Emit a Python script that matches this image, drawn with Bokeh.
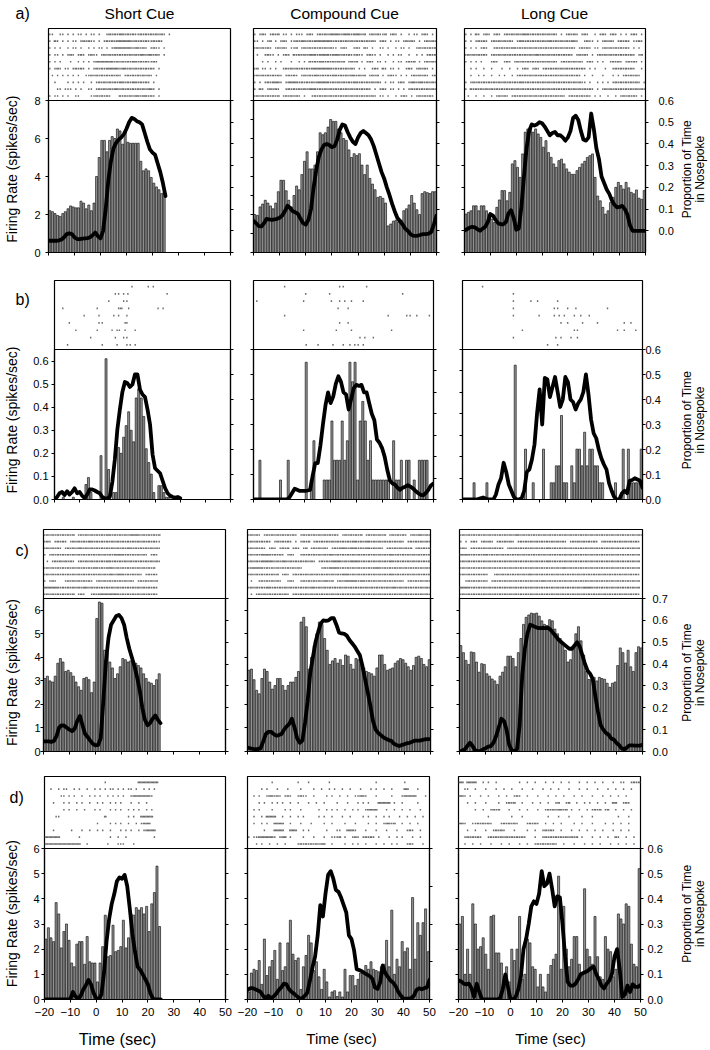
import numpy as np
from bokeh.plotting import figure
from bokeh.models import Range1d, LinearAxis, FixedTicker, Span, NumeralTickFormatter
from bokeh.core.properties import value
from bokeh.layouts import column, row
from bokeh.embed import file_html
from bokeh.resources import INLINE

FONT = "Liberation Sans"

# ---------------- data ----------------
time_ticks = [-20, -10, 0, 10, 20, 30, 40, 50]
col_titles = ["Short Cue", "Compound Cue", "Long Cue"]
row_tags = ["a)", "b)", "c)", "d)"]
rate_label = "Firing Rate (spikes/sec)"
prop_label = ["Proportion of Time", "in Nosepoke"]
time_label = "Time (sec)"

# firing rate per 1-s bin starting at -20 s; proportion of time per second starting at -20 s
a1_rate = [2.2, 2.15, 2.05, 1.95, 1.9, 2.05, 2.15, 2.3, 2.45, 2.4, 2.35, 2.35, 2.7, 2.6, 2.3, 2.5, 2.2, 2.6, 4.0, 5.0,
           5.9, 5.9, 5.3, 5.9, 6.1, 6.0, 6.5, 6.4, 5.7, 6.35, 5.8, 5.75, 5.75, 5.75, 5.75, 4.8, 4.3, 4.4, 4.3, 3.95,
           3.65, 3.45, 3.3, 3.1, 3.2]
a1_prop = [.054, .054, .054, .054, .056, .06, .07, .085, .088, .085, .07, .062, .062, .064, .065, .066, .07, .08, .092, .075,
           .065, .10, .2, .33, .42, .48, .505, .52, .53, .545, .57, .6, .62, .615, .605, .6, .59, .55, .51, .475,
           .46, .45, .41, .37, .32, .26]
a2_rate = [2.0, 1.95, 2.4, 2.55, 2.75, 2.6, 2.45, 2.3, 2.6, 3.2,
           3.8, 3.8, 3.25, 2.75, 2.4, 3.0, 3.5, 3.3, 4.1, 4.8,
           5.3, 4.4, 4.4, 4.6, 5.3, 6.3, 6.2, 6.3, 6.6, 7.0,
           6.9, 6.9, 6.5, 6.3, 6.0, 5.9, 5.4, 5.0, 5.2, 5.1,
           5.2, 4.6, 4.1, 4.6, 3.9, 3.6, 3.3, 2.9, 2.95, 2.85,
           2.6, 1.4, 1.5, 1.65, 1.7, 1.6, 1.7, 2.2, 2.3, 2.5,
           3.0, 2.6, 2.25, 2.0, 3.1, 3.2, 3.15, 3.1, 3.2, 3.2]
a2_prop = [.146, .135, .122, .12, .135, .155, .152, .15, .152, .155,
           .16, .17, .19, .215, .205, .19, .185, .178, .155, .135,
           .128, .15, .2, .3, .38, .44, .475, .495, .5, .495,
           .485, .49, .52, .565, .59, .585, .555, .53, .51, .5,
           .53, .55, .56, .55, .54, .52, .49, .45, .41, .37,
           .34, .3, .265, .225, .19, .16, .145, .13, .11, .1,
           .085, .078, .077, .078, .082, .085, .085, .087, .095, .13, .17]
a3_rate = [1.77, 1.85, 1.92, 2.15, 2.15, 1.92, 2.15, 2.15, 1.92, 1.77,
           1.54, 1.38, 2.08, 2.42, 2.85, 2.85, 2.38, 2.77, 4.08, 4.23,
           3.92, 3.46, 4.54, 5.54, 5.69, 5.77, 5.54, 5.69, 5.46, 5.3,
           4.85, 5.15, 4.6, 4.38, 4.08, 3.92, 4.23, 4.3, 4.08, 3.85,
           3.7, 3.6, 3.6, 3.77, 3.92, 4.08, 4.2, 4.38, 4.46, 4.54,
           3.46, 2.6, 2.38, 2.08, 1.77, 1.92, 2.3, 2.54, 3.0, 3.23,
           3.08, 2.92, 3.23, 2.98, 2.77, 2.7, 2.88, 2.5, 2.45, 2.85]
a3_prop = [0, .008, .015, .018, .016, .008, 0, .01, .018, .04,
           .077, .07, .05, .035, .03, .03, .04, .08, .095, .06,
           .005, .01, .11, .25, .38, .46, .49, .485, .49, .5,
           .495, .48, .46, .44, .45, .455, .44, .44, .43, .415,
           .43, .46, .52, .53, .51, .46, .42, .415, .43, .54,
           .47, .38, .33, .25, .22, .19, .17, .14, .12, .108,
           .11, .115, .1, .075, .025, 0, 0, 0, 0, 0, 0]

b1_rate = [0, 0, 0, 0.01, 0, 0, 0, 0.01, 0, 0,
           0, 0, 0.065, 0.095, 0.03, 0, 0, 0, 0.19, 0,
           0.61, 0.13, 0, 0.03, 0.03, 0.225, 0.2, 0.27, 0.32, 0.38,
           0.3, 0.25, 0.44, 0.48, 0.44, 0.36, 0.22, 0.16, 0.11, 0.03,
           0, 0.06, 0.06, 0.03, 0.01, 0.01, 0, 0.01, 0.005, 0.01]
b1_prop = [0, .01, .025, .03, .018, .033, .02, .03, .045, .025,
           .03, .015, .005, .02, .04, .04, .036, .03, .025, .01,
           .004, .004, .01, .07, .16, .28, .36, .43, .47, .465,
           .45, .46, .5, .5, .44, .42, .41, .36, .3, .18,
           .125, .115, .105, .075, .045, .025, .015, .01, .008, .01, .005]
b2_rate = [0, 0, 0.157, 0, 0, 0, 0, 0, 0, 0,
           0.078, 0, 0, 0.157, 0, 0, 0, 0, 0, 0,
           0.549, 0, 0.078, 0.235, 0, 0, 0, 0.078, 0.078, 0.078,
           0.314, 0.157, 0.157, 0.157, 0.314, 0.157, 0.235, 0.549, 0.471, 0.549,
           0.078, 0.314, 0.392, 0.314, 0.157, 0.235, 0.078, 0.078, 0.078, 0.078,
           0.078, 0.078, 0.078, 0, 0.235, 0.078, 0.078, 0.157, 0, 0.157,
           0.157, 0, 0.078, 0, 0.157, 0.157, 0.157, 0.157, 0, 0]
b2_prop = [0, 0, 0, 0, 0, 0, 0, 0, 0, 0,
           0, 0, 0, 0, .01, .03, .05, .045, .04, .04,
           .04, .042, .045, .11, .17, .17, .25, .35, .44, .5,
           .45, .48, .54, .575, .55, .5, .49, .42, .47, .52,
           .535, .53, .535, .5, .5, .45, .4, .37, .28, .265,
           .24, .2, .14, .09, .075, .07, .055, .045, .055, .06,
           .067, .06, .052, .04, .03, .022, .02, .03, .045, .065, .075]
b3_rate = [0, 0, 0, 0, 0.078, 0, 0, 0, 0, 0.078,
           0, 0, 0, 0, 0, 0, 0, 0, 0, 0,
           0.627, 0, 0, 0, 0.235, 0, 0, 0.078, 0, 0,
           0, 0.235, 0, 0, 0.078, 0.078, 0.157, 0.157, 0.392, 0.078,
           0.078, 0, 0.157, 0.078, 0.235, 0.235, 0.157, 0.314, 0.157, 0.235,
           0.235, 0.157, 0.157, 0.078, 0.078, 0, 0, 0, 0, 0.078,
           0, 0, 0.235, 0, 0.235, 0.078, 0.078, 0.078, 0.078, 0.235]
b3_prop = [0, 0, 0, 0, 0, 0, .002, .005, .008, .004,
           0, 0, 0, .02, .06, .085, .147, .11, .06, .035,
           .01, 0, 0, .005, .035, .11, .12, .16, .22, .345,
           .44, .3, .486, .48, .41, .45, .49, .43, .37, .4,
           .49, .47, .4, .39, .36, .385, .4, .43, .5, .42,
           .32, .265, .245, .2, .165, .14, .12, .065, .035, .01,
           0, 0, .025, .035, .025, .075, .078, .085, .08, .075, .048]

c1_rate = [3.1, 3.2, 3.0, 2.95, 3.2, 3.75, 3.95, 3.8, 3.4, 3.45, 3.35, 3.2, 2.95, 2.75, 2.6, 3.1, 3.15, 3.05, 2.5, 2.95,
           5.65, 6.35, 6.3, 4.3, 4.2, 3.8, 3.55, 3.1, 3.3, 3.6, 3.95, 3.9, 3.8, 3.85, 3.85, 3.75, 3.65, 3.55, 3.3, 3.1,
           2.95, 2.9, 2.8, 3.05, 3.3]
c1_prop = [.046, .046, .046, .044, .048, .07, .11, .12, .118, .108,
           .1, .093, .105, .14, .163, .12, .08, .066, .05, .035,
           .028, .03, .06, .23, .41, .52, .58, .6, .62, .625,
           .61, .58, .52, .47, .43, .39, .34, .28, .2, .145,
           .12, .13, .15, .165, .145, .13]
c2_rate = [3.45, 3.5, 3.05, 2.6, 2.45, 3.1, 3.5, 3.4, 2.95, 2.65,
           2.8, 3.1, 3.1, 2.8, 2.6, 2.8, 2.95, 2.95, 3.15, 3.4,
           5.5, 5.7, 5.3, 3.5, 4.0, 4.5, 5.0, 5.5, 5.4, 4.8,
           4.3, 3.7, 3.85, 3.95, 3.75, 3.9, 3.65, 4.1, 4.05, 3.7,
           3.5, 3.95, 3.9, 3.7, 3.55, 3.4, 3.35, 3.3, 3.2, 3.55,
           4.1, 4.1, 3.7, 3.45, 3.5, 3.55, 3.75, 3.85, 3.95, 3.9,
           3.75, 3.6, 3.45, 3.65, 4.0, 4.05, 3.95, 3.7, 3.6, 3.9]
c2_prop = [.018, .015, .012, .011, .011, .015, .045, .08, .09, .09,
           .08, .072, .075, .08, .1, .115, .126, .15, .11, .06,
           .04, .05, .13, .23, .36, .43, .5, .545, .585, .6,
           .598, .6, .61, .61, .58, .545, .54, .538, .53, .51,
           .495, .48, .46, .44, .39, .33, .27, .21, .14, .1,
           .085, .075, .065, .058, .052, .049, .035, .03, .025, .03,
           .033, .038, .04, .045, .05, .05, .05, .053, .056, .057, .057]
c3_rate = [4.5, 4.2, 3.87, 3.7, 4.23, 4.2, 3.8, 3.37, 3.73, 3.7,
           3.3, 3.2, 3.08, 3.0, 2.85, 3.2, 3.37, 3.6, 4.05, 4.05,
           3.95, 3.6, 4.2, 4.8, 5.4, 5.7, 5.8, 5.88, 5.85, 5.88,
           5.75, 5.55, 5.4, 5.35, 5.6, 5.55, 5.2, 5.0, 4.8, 4.55,
           4.3, 3.8, 3.9, 4.4, 5.0, 5.3, 4.7, 4.1, 3.4, 3.06,
           3.06, 3.15, 3.0, 3.15, 3.1, 3.07, 2.9, 2.73, 2.9, 2.95,
           3.65, 4.4, 4.2, 3.76, 4.3, 3.6, 3.4, 4.2, 4.45, 4.4]
c3_prop = [0, .004, .01, .025, .04, .025, .005, .002, .003, .01,
           .015, .022, .025, .04, .07, .11, .15, .14, .1, .03,
           .005, .002, .01, .12, .35, .47, .54, .58, .575, .57,
           .565, .564, .565, .564, .565, .555, .54, .525, .51, .5,
           .49, .48, .47, .47, .485, .5, .48, .44, .4, .37,
           .355, .33, .25, .18, .12, .1, .085, .077, .06, .055,
           .04, .03, .015, .01, .018, .028, .028, .027, .027, .027, .03]

d1_rate = [2.4, 2.85, 2.45, 2.3, 3.85, 3.4, 2.05, 2.7, 3.0, 2.35, 1.45, 1.3, 2.2, 2.3, 2.3, 1.4, 2.5, 1.5, 1.45, 1.45,
           0.7, 1.45, 2.1, 3.35, 1.7, 1.75, 2.95, 1.9, 1.95, 2.1, 3.15, 2.05, 2.45, 3.4, 3.35, 3.65, 3.55, 3.65, 3.4, 3.7,
           2.7, 3.8, 4.25, 5.3, 2.9]
d1_prop = [0, 0, 0, 0, 0, 0, 0, 0, 0, 0,
           .002, .03, .012, .002, .015, .04, .057, .078, .06, .025,
           .005, 0, .02, .105, .23, .32, .38, .42, .47, .485,
           .48, .495, .45, .36, .26, .19, .13, .118, .1, .08,
           .06, .024, .003, 0, 0, 0]
d2_rate = [0.3, 1.05, 1.2, 1.15, 1.55, 0.6, 2.4, 0.95, 1.3, 1.55,
           1.95, 0.8, 2.25, 1.15, 1.3, 2.25, 3.15, 1.8, 1.55, 1.65,
           0.4, 1.3, 1.75, 2.55, 2.25, 1.15, 1.5, 0.9, 0.4, 1.2,
           0.7, 0.1, 0.3, 0.35, 0.12, 0.3, 0.1, 1.2, 0.3, 0.95,
           0.95, 0.55, 0.8, 1.05, 1.05, 1.35, 1.2, 1.5, 1.2, 1.15,
           1.1, 1.3, 1.4, 2.35, 1.3, 3.55, 1.0, 1.6, 1.3, 2.3,
           1.9, 2.05, 1.2, 4.05, 1.6, 3.05, 2.55, 3.05, 3.6, 1.9]
d2_prop = [.025, .03, .03, .027, .024, .02, .01, .003, .01, .003,
           .008, .015, .025, .032, .042, .04, .027, .02, .015, .009,
           .003, .003, .01, .018, .05, .085, .114, .17, .25, .22,
           .28, .33, .34, .32, .29, .285, .27, .25, .23, .17,
           .16, .13, .08, .078, .075, .07, .066, .062, .055, .032,
           .028, .045, .09, .07, .06, .05, .045, .035, .02, .01,
           .002, .002, .002, .004, .01, .025, .03, .027, .03, .032, .052]
d3_rate = [3.0, 3.3, 1.0, 2.0, 1.0, 3.8, 3.0, 2.0, 2.1, 2.45, 1.8, 1.2, 3.3, 3.35, 1.85, 1.85, 1.45, 0.8, 1.3, 0.7,
           2.0, 1.55, 2.0, 3.3, 0.8, 1.0, 2.4, 2.25, 1.3, 1.2, 0.5, 1.0, 0.5, 0.3, 1.0, 1.35, 1.6, 1.8, 4.9, 1.2,
           3.7, 2.0, 1.3, 1.6, 2.5, 2.5, 1.4, 1.0, 4.4, 2.0, 1.7, 1.4, 3.3, 1.7, 0.9, 0.8, 2.5, 2.0, 1.9, 0.9,
           1.2, 3.4, 3.2, 3.0, 3.8, 3.7, 2.2, 1.4, 1.3, 5.2]
d3_prop = [.075, .072, .063, .06, .063, .045, .01, .063, .03, .002,
           0, 0, 0, 0, 0, 0, .005, .04, .1, .05,
           .002, 0, .01, .04, .09, .2, .24, .3, .37, .39,
           .38, .42, .51, .45, .46, .5, .44, .37, .41, .405,
           .3, .17, .07, .055, .055, .063, .08, .1, .105, .11,
           .116, .125, .13, .1, .08, .055, .044, .063, .075, .1,
           .17, .2, .12, .01, .02, .055, .03, .06, .05, .05, .058]

# rasters: one string per trial (top to bottom), one char per 1-s bin from -20 s
# ' ' none, '.' one spike, ':' two spikes; sparse rasters are given as spike times (s)
a1_raster = [
    "..  .. . . .. . .. .  .:.:.::.:.:..:.:.:.:.:. .",
    ". :. . . .. .:.:.. . .:.:.::::::.:.:.:..:.:. ",
    ". . .  . .. .  . . .. . .:::::::.::.:. .:.. .",
    ". .. . .:. .:. .:.. .:.:.:.:.:.:.:.::.::.:. .",
    ". . .   .  . . . .:::::::.:.:.:.::.:.:..:. ",
    ". .:. .. .:.:. . .:.:.:::::.::.:.:.:.:.:. .",
    " . . . . . .  ..:.:.:.:.:.:. .:.:.:.:.:. . ",
    "  .    . . . .  . .:.:.:.:.::.:.::.:.:. . ",
    "   .. ... . .  .. .:.:.:.::.:.:.:.:.:.::. .",
    ". .. . .  ..    ..:.:.:.   :.:.:.::.::.:. .",
]
a2_raster = [
    ". .:. .:.: .. . ... .:. .:.:.::::.:::.:::.: .:.:..: .:. .  . .. .:. . . ",
    ".. . .: . .:. ..:.::.:.:::::::.:.:.:.:.:.:.:.:. .:. . .. .:.:. . .:.:.:",
    ".:.:.:. .:.:. ..: .:.:.:.:.:.:.. .:.  .:. :. .  .. .  . .. .  .:.:.:.:",
    " .  .:.. . .:. :.:.:.:::.::::.:::.:.:..:.. .:.. .  . . ..  .  . . .:.:",
    "   . .  . .   .  . . :.:.::.:.:.:.: .:.: . .:. .. .  . .. .:.: . .:.:.",
    ".: .. . .  .:.:.:.:.:.::::::::.:.:.:.:. . .  .:. :. .. .  .:. .:.:. . ",
    ".:.:.:.:.:. .:.:. .:.:.::.:.:.::.:.:.::.:.: .:.: . .:.. . . .:.:.:. .:",
    ". . .:.:::. .::::.:.:.:.:::::.:.:.:.:.::.:.:.:.:. . .. .:. .::.::.:.:.",
    ". :. .:.:.  .:.:.:.:.:::.:.:.:.:.:.:.:.:.:.:. . .:. .. . . .:.:.:.:.:.",
    ".:.:.:.:.: .:.:.:. .  .:.:.:.:.:.:.:.:.:.:.:.:. .. .  . .:. . .:.:.:. ",
]
a3_raster = [
    ". . :. .:. .:. .:.:.:.:::.:.:.:.:.:. . .:.:. .:.  . .:. .:. . . .:. .",
    ". . .:.:. .:.:.:.:. .::.:.:.:.:.::.:.:.:.::.  .:.. . .:.:. .:.:. ..:.",
    ". . . .:.  .:.:.:.::.:.:.:.:.:.:.:.:.:.:.:. .:.:. .. .:.:.:.:.:. . . ",
    ".:.:.:.:. .:.:.:.:.:.:.:.:.::.:.:.:.:.:.:. .:.:. . .:.:.:.:.:.:.:. .:",
    ". . . .   .:.  .:. .:.:.:.:.:.:.:.:. .:.:.:.:. .:. . .  .:.:. .:.:. . ",
    "  . .  .  .   .  .  . .:. .:. .:.:.:.:.:.:.:.:. . .   .  .:.:.:.:.  .",
    "  .  . .  .  . .  . .:.:.:.:.:.:.:.:.:.:.:.:. .  .   .   . . .:.:.:. ",
    ". .:.:.:.:.:.:.:.:.:.::.:.:.:.:.:.:.:.:.:.:.:.. .  . . . .:.:.:.:.:. .",
    ". :.:.:.:.:.:.:.:.:.:.:.:.:.:.:.:.:.:.:.:.:.:.:.:. . .:.:.:.:.:.:.:.:.",
    " .  .  .  . .:.:. .:.:.:.:.:.:.:.:.:.:. .:.:.:.:. . .  .  . .:.:.:. . ",
]
b1_raster = [
    [10.8, 17.3, 19.3],
    [4.2, 5.5, 7.5, 9.2, 24.8],
    [1.6, 7.5, 8.8],
    [-16.7, -3.0, 5.5, 6.2, 6.8, 9.5, 21.2, 23.2],
    [-8.2, -2.3, 3.6, 5.5, 8.8],
    [-14.1, -2.3, -1.0, 8.1, 8.8],
    [-11.5, -3.0, 2.9, 4.9, 5.8, 8.1, 12.1],
    [-5.6, 4.2, 7.5, 8.8],
    [-14.8, -1.0, 4.9, 8.8, 10.1, 12.1],
]
b2_raster = [
    [-7.9, 13.5, 14.9, 24.0],
    [0.3, 9.6, 38.0],
    [-18.7, -0.5, 10.3, 13.5, 15.5, 18.1, 22.7],
    [12.9, 16.8],
    [-7.9, 32.4, 39.6, 40.9, 43.5, 48.4],
    [13.5, 16.8],
    [-0.5, 12.2, 18.1, 33.7],
    [21.4, 23.3, 26.6],
    [0.5, 5.1, 10.9, 14.9, 17.5, 19.4, 20.7, 22.7],
]
b3_raster = [
    [-12.2],
    [-0.2],
    [-0.2, 6.6, 9.2, 17.0],
    [-0.2, 15.7, 17.0, 20.9, 24.1, 36.4],
    [-0.2, 9.8, 15.7, 17.6, 19.6, 23.5, 26.0, 29.3],
    [18.3, 20.9, 26.7, 32.5, 42.9, 45.5],
    [3.3, 23.5, 24.7, 40.3, 42.9, 47.4],
    [-0.2, 16.3, 18.3, 22.2, 24.7],
    [13.1, 17.0],
]
c1_raster = [
    ".:.:.:.:.:.: .:.:.:.:.:.::.:.:.:.::::.:.:.:.:",
    ".:. .:.:. .:.:.:.::.:.:.:.:.:.:.:.:.:.:.:.:..",
    ".:.:.:. .:.:.::.:.:.:.:.:.:.:.:.::.:.:.:.:.:.",
    ". .:.:.:.:.:.:.:.:.:.:.:.:.::::.:.:.:.:. .:. ",
    " . .:.:.:.:. .:.:.:.:.:.::.:.:.:.:.:.:.:.:.:.",
    ".:.:.:.:.:.:.:.:.:.::.:.:::.:.:.:.:.:.:.:.: ",
    ".:.:.:.:.:.:.:.:.:.:.:.:.::.:::.:.:.:. .:.:. ",
    ". .:.   .:.:.:.:.:. .:.:.:.:.:.:.:. .:.:.:.:",
    "::::::.:.:.:.:.::.:.:.:.:.:.:.:.:.:.:.:.:.:.",
    ".:.:.:.:.:.: .:.  .:.::::::::.:.:.:.:.:.:.:.",
]
c2_raster = [
    ".:.:. .:.:.:.:.:.:. .:.:.:.:.:.:.:. .:.:.:.: .:.:.:.: .:.:.:. .:.::.:.:",
    ".:.:.:.:. .:.:.:. . .:.: .:.:.:.:.:.:.:.::.:.::.:.:.:.:.:.:. .:.:.:.:.:",
    ".:.:.:. .:. .:.: .:. .: .:.:.:. .:.:::.:::.:.::.:.:. .:.:.:.:.: .:.:.:.",
    ".:.:.::::.:.:. .:.  .:.:.:.:.:.::.:.:.:.:.:.:.:.:.:.:.::.:.:.:.:.:.:.:",
    ".:.:.:::::.:.::.:.:.:.:.:. .:.:.::::.:.::::.:.:.:.:.:.::.:.:.:.:.:.:.:",
    ".:::::.:.:.:.:.:.:.:.       .:.::::.:.:.:.:.:.:.:::.:.:.:.:.:.:.:.:.:.",
    ".:.:.:.:.:.: .:. .:.:.:.:.:.:.:.:.:.:::.:.:.:.:.:.:.:.::.:.:.:.:.:.:.:",
    " .  .:.:.:.:.  .:.  .:.:.:.:.::.: .:.:::::.::.:.:.:.:.:.:.:. .:.:.:.:.",
    ".:.:.:.::.:.:.:.:.:.:.:.::.:.:.:.:.:.:.:.:.:.:.:.:.:.:.::.:.:.:.:.:.:.",
    " . .:.:.:.:.:.:. .:.:.:.:.:.:.:.:.:.:.:.:.:.:.:.:.:.:.:.:.:.:.:.:.:.:.",
]
c3_raster = [
    ".:.:.:.:.:.:.:.:.:.:.::.:.:.:.:.:.:.:.:.:.:.:.:.:.:.:.:.:.:.:.:.:.:.:.",
    ". . .:. .:.:. .:.:.:. .:.:.:.:.:.:.:.:.:. .:.:.:.:.:. .:.:.:.:.:.:.:.",
    ".:. .:.:.:.:.:.:. .:.:.:.:.:.:.:.::.:.:.:.:.:.:.:.:.:.:.:.:.:.:.:.:.:",
    "::::.:.:.::.:.:.:.:.:.:.:.:.:.:.:.:.:.:.:.:.:.:.:.:.:.:.:.:.:.:.:.:.:",
    ".:.:.:.:.:.:.:.:.:.:.:.:.:.:.:.:.::.:.:.:.:.:.:.:.:.:.:.:.:.:.:.:.:.:",
    ".:.:.:.:.:.:.:.:.:.:.:.:.:.:.:.:.:.:.:.::.:.:.:.:.:.:.:.:.:.:.:.:.:.:",
    ".:.:.:.:.:.  .:.:.:.:.:.:.::.:.:.:.:.:.:.:.:.:.:.:.:.:.:.:.:.:.:.:.:.",
    "  .:.:.:.:. .:.:.:.:.:.:.:.:.:.::.:.:.:.:.:.:.:.:.:.:.:.:.:.:.:.:.:.:",
    "::::.:.:.:.:.:.:.:.:.:.:.:.:.:.:.:.:.:.:.:.:.:.::::.:.:.:.:.:.:.:.:.:",
    ".:.:.:.:.:.:.:.:.:.:.:.:.:.:.:.:.:.:.:.:.:.:.:.:.:.:.:.:.:.:.:.:.:.:.",
]
d1_raster = [
    "                       .            :::::::: ",
    "  .  . ..  . .  .  . . . .. . . .. .  . . .  ",
    "      .. . .  .  . . .  . . . .  .:::::::.   ",
    "   .   . .  . .  .  . .  . . .   .  .  .     ",
    "       . .  .  .   . .   . . .  . . .  . .   ",
    "    ..                 :        . .  :::::   ",
    "                    .    . . .  .  . .:::   ",
    "   .      .   .  .  . .  .   . . .  . .::::  ",
    "::::::       .           .  .  .          .  ",
    "::::::::::::::  .       .   ...   .         ",
]
d2_raster = [
    "         .         .   .       .                 .          .        ",
    "     . .   .   .    .    .  .  . .  .  .   .   . .  .  .    ::   .   ",
    "  . .  .::.:. .:.  .:..  .    . .  .  .  ..::.   .     .   .:::::   . ",
    "    . .  . . .  .  .   .  .  .    .   .   . . .   ::::: .  .     .   ",
    "  . .    .    . .   .      .  . . .  .  . .  .::::   .  .  .  .   .  ",
    "  .  . ::::  .  .  . .     . .  .   .  .    . .  .  . .   .  .  .  . ",
    "  .  . .  ::::  .   .   .    .  .    .   .    .  .  .::.:  .  .  .   ",
    "      .   ::::  :::  . .      .   ..  :::.   .   .   .   .   .:.  .  ",
    ". ..::::::. .:: .    .   .   .  ...: .  .:. .:.:. .   .  . .   .  .  ",
    "   . .  .  .  .    .:.:.:.:.::  .    .  . .  .   .  .  . .   .:.   . ",
]
d3_raster = [
    ":: ::::  . .  .        .  .  .   .  .  .  .   .  .  .  .   .  ..  .:.:",
    "  ..  .   .   .  .  .   .   .   .  .  .   .   .  .   .   .  .  .  .  ",
    "::. .   .  .   .  .  .:.  .   .   .  .  .   .  .   .   .  .  .  .   ",
    "   .  .   .    .  .:.:  .   .  .  .  .:  .:  .  . .  .  .  ::  .:.   ",
    "      .  .  .:.:   .   .  .   .  .:.:.::.: .  .  . .:.: .:  .  .  .  ",
    "           .        .   .         .   .   .    .   .         .   .   ",
    "::.  ..:.:.:.   .:.:.:.   .:.:.  .  .  .    .  .   .    .  .  .  .   ",
    "   .  .   .  .:.:.   .    .  .  .:.:.  .   .  .  .  .  .   .  .  .   ",
    "  .:.:.:.  .:.:.:.:.:.:.:.   .  .:.:.:.:.:.:.: .   .  .  .  :.  .  . ",
    "  .  .  .   .   .  .   .  .  .:.:.:.:.  .   .   .  .  .   .  .  .  . ",
]

# axis scales per panel: (rate max, rate ticks, rate format, prop low, prop high, prop ticks)
p7 = [0.0, 0.1, 0.2, 0.3, 0.4, 0.5, 0.6, 0.7]
p6 = [0.0, 0.1, 0.2, 0.3, 0.4, 0.5, 0.6]
p4 = [0.0, 0.1, 0.2, 0.3, 0.4]
r06 = [0.0, 0.1, 0.2, 0.3, 0.4, 0.5, 0.6]
r07 = [0.0, 0.1, 0.2, 0.3, 0.4, 0.5, 0.6, 0.7]
i6 = [0, 1, 2, 3, 4, 5, 6]
SCALES = [
    [(8, [0, 2, 4, 6, 8], "0", 0.0, 0.7, p7), (8, [0, 1, 2, 3, 4, 5, 6, 7, 8], "0", 0.0, 0.7, p7),
     (7, [0, 1, 2, 3, 4, 5, 6, 7], "0", -0.1, 0.6, p6)],
    [(0.65, r06, "0.0", 0.0, 0.6, p6), (0.6, r06, "0.0", 0.0, 0.7, p7), (0.7, r07, "0.0", 0.0, 0.6, p6)],
    [(6.5, i6, "0", 0.0, 0.7, p7), (6.5, i6, "0", 0.0, 0.7, p7), (6.5, i6, "0", 0.0, 0.7, p7)],
    [(6, i6, "0", 0.0, 0.6, p6), (6, i6, "0", 0.0, 0.4, p4), (6, i6, "0", 0.0, 0.6, p6)],
]
DATA = [
    [(a1_rate, a1_prop, a1_raster), (a2_rate, a2_prop, a2_raster), (a3_rate, a3_prop, a3_raster)],
    [(b1_rate, b1_prop, b1_raster), (b2_rate, b2_prop, b2_raster), (b3_rate, b3_prop, b3_raster)],
    [(c1_rate, c1_prop, c1_raster), (c2_rate, c2_prop, c2_raster), (c3_rate, c3_prop, c3_raster)],
    [(d1_rate, d1_prop, d1_raster), (d2_rate, d2_prop, d2_raster), (d3_rate, d3_prop, d3_raster)],
]

# ---------------- layout (pixels, page has no margin) ----------------
PAGE_W = 710
HEADER_H = 24
FOOTER_H = 26
LEFT_W = 30
RIGHT_W = 33
GEOM = [
    dict(t=4, rh=72, hh=152, b=14, cols=[(18, 182, 11), (12, 183, 14), (14, 181, 32)], lstand=5, rstand=10),
    dict(t=14, rh=69, hh=150, b=15, cols=[(22, 178, 11), (12, 180, 15), (14, 180, 35)], lstand=3, rstand=0),
    dict(t=15, rh=69, hh=153, b=12, cols=[(13, 182, 11), (11, 183, 14), (15, 183, 35)], lstand=0, rstand=7),
    dict(t=13, rh=72, hh=151, b=25, cols=[(12, 183, 11), (11, 182, 14), (15, 182, 37)], lstand=2, rstand=4),
]
TAG_POS = [(15, 13), (15, 288), (15, 537), (9, 787)]   # left edge x, centre y (page px)
TITLE_X = [139, 344, 554]
TIME_X = [117, 341, 550]
TIME_SIZE = ["16.5px", "15px", "15px"]


def raster_points(rows):
    xs, ys = [], []
    n = len(rows)
    for k, r in enumerate(rows):
        yv = n - k
        if isinstance(r, str):
            for i, ch in enumerate(r[:70]):
                t0 = -20 + i
                if ch == ".":
                    xs.append(t0 + 0.5); ys.append(yv)
                elif ch == ":":
                    xs += [t0 + 0.25, t0 + 0.75]; ys += [yv, yv]
        else:
            xs += list(r); ys += [yv] * len(r)
    return xs, ys


def style_axis(ax, show, size, standoff):
    ax.axis_line_color = "black"
    ax.axis_line_width = 1.2
    ax.major_tick_line_color = "black"
    ax.major_tick_line_width = 1
    ax.major_tick_out = 3
    ax.major_tick_in = 0
    ax.minor_tick_out = 0
    ax.minor_tick_in = 0
    ax.major_label_text_font = FONT
    if show:
        ax.major_label_text_color = "black"
        ax.major_label_text_font_size = size
        ax.major_label_standoff = standoff
    else:
        ax.major_label_text_color = None
        ax.major_label_text_font_size = "1px"
        ax.major_label_standoff = 0


def text_fig(w, h):
    f = figure(width=w, height=h, x_range=Range1d(0, w), y_range=Range1d(0, h),
               min_border=0, x_axis_location=None, y_axis_location=None,
               output_backend="svg", toolbar_location=None)
    f.outline_line_color = None
    f.xgrid.visible = False
    f.ygrid.visible = False
    f.background_fill_color = "white"
    f.border_fill_color = "white"
    return f


def put_text(f, x, y, txt, size, align="center", angle=0.0):
    f.text(x=[x], y=[y], text=[txt], angle=angle, text_font=value(FONT), text_font_size=value(size),
           text_align=align, text_baseline="middle", text_color="black")


# header: row tag a) and column titles
header = text_fig(PAGE_W, HEADER_H)
put_text(header, TAG_POS[0][0], HEADER_H - TAG_POS[0][1], row_tags[0], "16px", align="left")
for ci in range(3):
    put_text(header, TITLE_X[ci], HEADER_H - 13, col_titles[ci], "15.5px")

blocks = [header]
y_cursor = HEADER_H
for ri, g in enumerate(GEOM):
    t, rh, hh, b = g["t"], g["rh"], g["hh"], g["b"]
    fh = rh + hh
    H = t + fh + b
    frame_top = y_cursor + t
    hist_mid = frame_top + rh + hh / 2.0

    left = text_fig(LEFT_W, H)
    put_text(left, 11, H - (hist_mid - y_cursor), rate_label, "14px", angle=np.pi / 2)
    if ri > 0:
        tx, ty = TAG_POS[ri]
        put_text(left, tx, H - (ty - y_cursor), row_tags[ri], "16px", align="left")

    right = text_fig(RIGHT_W, H)
    for k, txt in enumerate(prop_label):
        put_text(right, 9 + 13 * k, H - (hist_mid - y_cursor), txt, "12px", angle=np.pi / 2)

    figs = [left]
    for ci in range(3):
        l, w, r = g["cols"][ci]
        rate, prop, raster = DATA[ri][ci]
        rmax, rticks, rfmt, plo, phi, pticks = SCALES[ri][ci]

        p = figure(width=l + w + r, height=H,
                   x_range=Range1d(-20, 50), y_range=Range1d(0, rmax * fh / hh),
                   min_border_left=l, min_border_right=r, min_border_top=t, min_border_bottom=b,
                   output_backend="svg", toolbar_location=None)
        n = len(raster)
        lo, hi = 0.35, n + 0.85
        per_px = (hi - lo) / rh
        p.extra_y_ranges = {
            "prop": Range1d(plo, plo + (phi - plo) * fh / hh),
            "raster": Range1d(lo - hh * per_px, hi),
        }
        p.xgrid.grid_line_color = None
        p.ygrid.grid_line_color = None
        p.outline_line_color = "black"
        p.outline_line_width = 1.2
        p.outline_line_alpha = 1
        p.background_fill_color = "white"
        p.border_fill_color = "white"

        xa = p.xaxis[0]
        xa.ticker = FixedTicker(ticks=time_ticks)
        style_axis(xa, ri == 3, "11.5px", 5)
        ya = p.yaxis[0]
        ya.ticker = FixedTicker(ticks=rticks)
        ya.bounds = (0, rmax)
        ya.formatter = NumeralTickFormatter(format=rfmt)
        style_axis(ya, ci == 0, "11px", g["lstand"])
        ra = LinearAxis(y_range_name="prop", ticker=FixedTicker(ticks=pticks), bounds=(plo, phi),
                        formatter=NumeralTickFormatter(format="0.0"))
        style_axis(ra, ci == 2, "11px", g["rstand"])
        p.add_layout(ra, "right")

        # histogram bars (firing rate)
        bx = [-19.5 + i for i in range(len(rate))]
        p.vbar(x=bx, width=0.78, top=rate, bottom=0, fill_color="#969696",
               line_color="#1a1a1a", line_width=0.7)
        # proportion of time in nosepoke
        lx = [-20 + i for i in range(len(prop))]
        p.line(x=lx, y=prop, y_range_name="prop", line_color="black", line_width=3.8,
               line_join="round", line_cap="round")
        # spike raster
        rx, ry = raster_points(raster)
        p.rect(x=rx, y=ry, width=0.55, height=0.24, y_range_name="raster",
               fill_color="#6a6a6a", line_color=None)
        p.add_layout(Span(location=rmax, dimension="width", line_color="black", line_width=1.2))
        figs.append(p)
    figs.append(right)
    blocks.append(row(*figs, spacing=0))
    y_cursor += H

footer = text_fig(PAGE_W, FOOTER_H)
for ci in range(3):
    put_text(footer, TIME_X[ci], FOOTER_H - (1038 - y_cursor), time_label, TIME_SIZE[ci])
blocks.append(footer)

layout = column(*blocks, spacing=0)
open("out.html", "w").write(file_html(layout, INLINE))
